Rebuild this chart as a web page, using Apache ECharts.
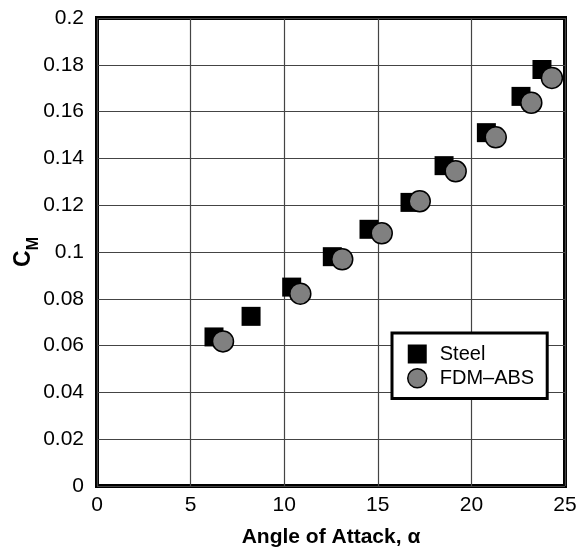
<!DOCTYPE html>
<html>
<head>
<meta charset="utf-8">
<script src="https://cdn.jsdelivr.net/npm/echarts@6/dist/echarts.min.js"></script>
<style>
  html, body { margin: 0; padding: 0; background: #fff; }
  #chart { width: 583px; height: 559px; }
</style>
</head>
<body>
<div id="chart"></div>
<script>
// Pitching moment coefficient vs angle of attack
const steelAlpha = [6.25, 8.23, 10.4, 12.57, 14.53, 16.72, 18.54, 20.8, 22.65, 23.77];
const steelCm    = [0.0637, 0.0725, 0.085, 0.098, 0.1097, 0.1212, 0.1369, 0.151, 0.1665, 0.178];
const absAlpha   = [6.73, 10.86, 13.1, 15.21, 17.24, 19.16, 21.3, 23.2, 24.3];
const absCm      = [0.0618, 0.0822, 0.0969, 0.108, 0.1217, 0.1345, 0.149, 0.1638, 0.1744];
const xTicks = [0, 5, 10, 15, 20, 25];
const yTicks = [0, 0.02, 0.04, 0.06, 0.08, 0.1, 0.12, 0.14, 0.16, 0.18, 0.2];

const FONT = '"Liberation Sans Narrow", "Liberation Sans", Arial, sans-serif';

const pairs = (xs, ys) => xs.map((x, i) => [x, ys[i]]);

const chart = echarts.init(document.getElementById('chart'), null, { renderer: 'canvas' });
chart.setOption({
  animation: false,
  backgroundColor: '#fff',
  grid: {
    left: 97, right: 18, top: 18, bottom: 73,
    outerBoundsMode: 'none',
    containLabel: false,
    show: true, borderColor: '#000', borderWidth: 4, backgroundColor: 'transparent'
  },
  xAxis: {
    type: 'value',
    min: xTicks[0], max: xTicks[xTicks.length - 1], interval: 5,
    axisLine: { show: false },
    axisTick: { show: false },
    splitLine: { show: true, lineStyle: { color: '#444', width: 1.2 } },
    axisLabel: { color: '#000', fontFamily: FONT, fontSize: 21, margin: 9 },
    name: 'Angle of Attack, α',
    nameLocation: 'middle',
    nameGap: 41,
    nameMoveOverlap: false,
    nameTextStyle: { color: '#000', fontFamily: FONT, fontSize: 21, fontWeight: 'bold' }
  },
  yAxis: {
    type: 'value',
    min: yTicks[0], max: yTicks[yTicks.length - 1], interval: 0.02,
    axisLine: { show: false },
    axisTick: { show: false },
    splitLine: { show: true, lineStyle: { color: '#444', width: 1.2 } },
    axisLabel: {
      color: '#000', fontFamily: FONT, fontSize: 21, margin: 13,
      formatter: v => String(+v.toFixed(2))
    },
    name: '{c|C}{m|M}',
    nameLocation: 'middle',
    nameRotate: 90,
    nameGap: 55,
    nameMoveOverlap: false,
    nameTextStyle: {
      color: '#000',
      rich: {
        c: { fontFamily: FONT, fontSize: 23, fontWeight: 'bold', color: '#000', lineHeight: 30, verticalAlign: 'top' },
        m: { fontFamily: FONT, fontSize: 16, fontWeight: 'bold', color: '#000', lineHeight: 30, verticalAlign: 'bottom', padding: [4, 0, 0, 0] }
      }
    }
  },
  legend: {
    orient: 'vertical',
    left: 392, top: 333,
    backgroundColor: '#fff',
    borderColor: '#000', borderWidth: 3,
    padding: [11, 13, 10, 15],
    itemGap: 4,
    itemWidth: 19, itemHeight: 19,
    textStyle: { color: '#000', fontFamily: FONT, fontSize: 20, padding: [0, 0, 0, 8] },
    data: [
      { name: 'Steel', icon: 'rect', itemStyle: { color: '#000', borderWidth: 0 } },
      { name: 'FDM–ABS', icon: 'circle', itemStyle: { color: '#808080', borderColor: '#000', borderWidth: 1.5 } }
    ]
  },
  series: [
    {
      name: 'Steel', type: 'scatter', symbol: 'rect', symbolSize: 19,
      itemStyle: { color: '#000', opacity: 1 },
      data: pairs(steelAlpha, steelCm), z: 3
    },
    {
      name: 'FDM–ABS', type: 'scatter', symbol: 'circle', symbolSize: 21,
      itemStyle: { color: '#808080', borderColor: '#000', borderWidth: 1.5, opacity: 1 },
      data: pairs(absAlpha, absCm), z: 4
    }
  ]
});
</script>
</body>
</html>
